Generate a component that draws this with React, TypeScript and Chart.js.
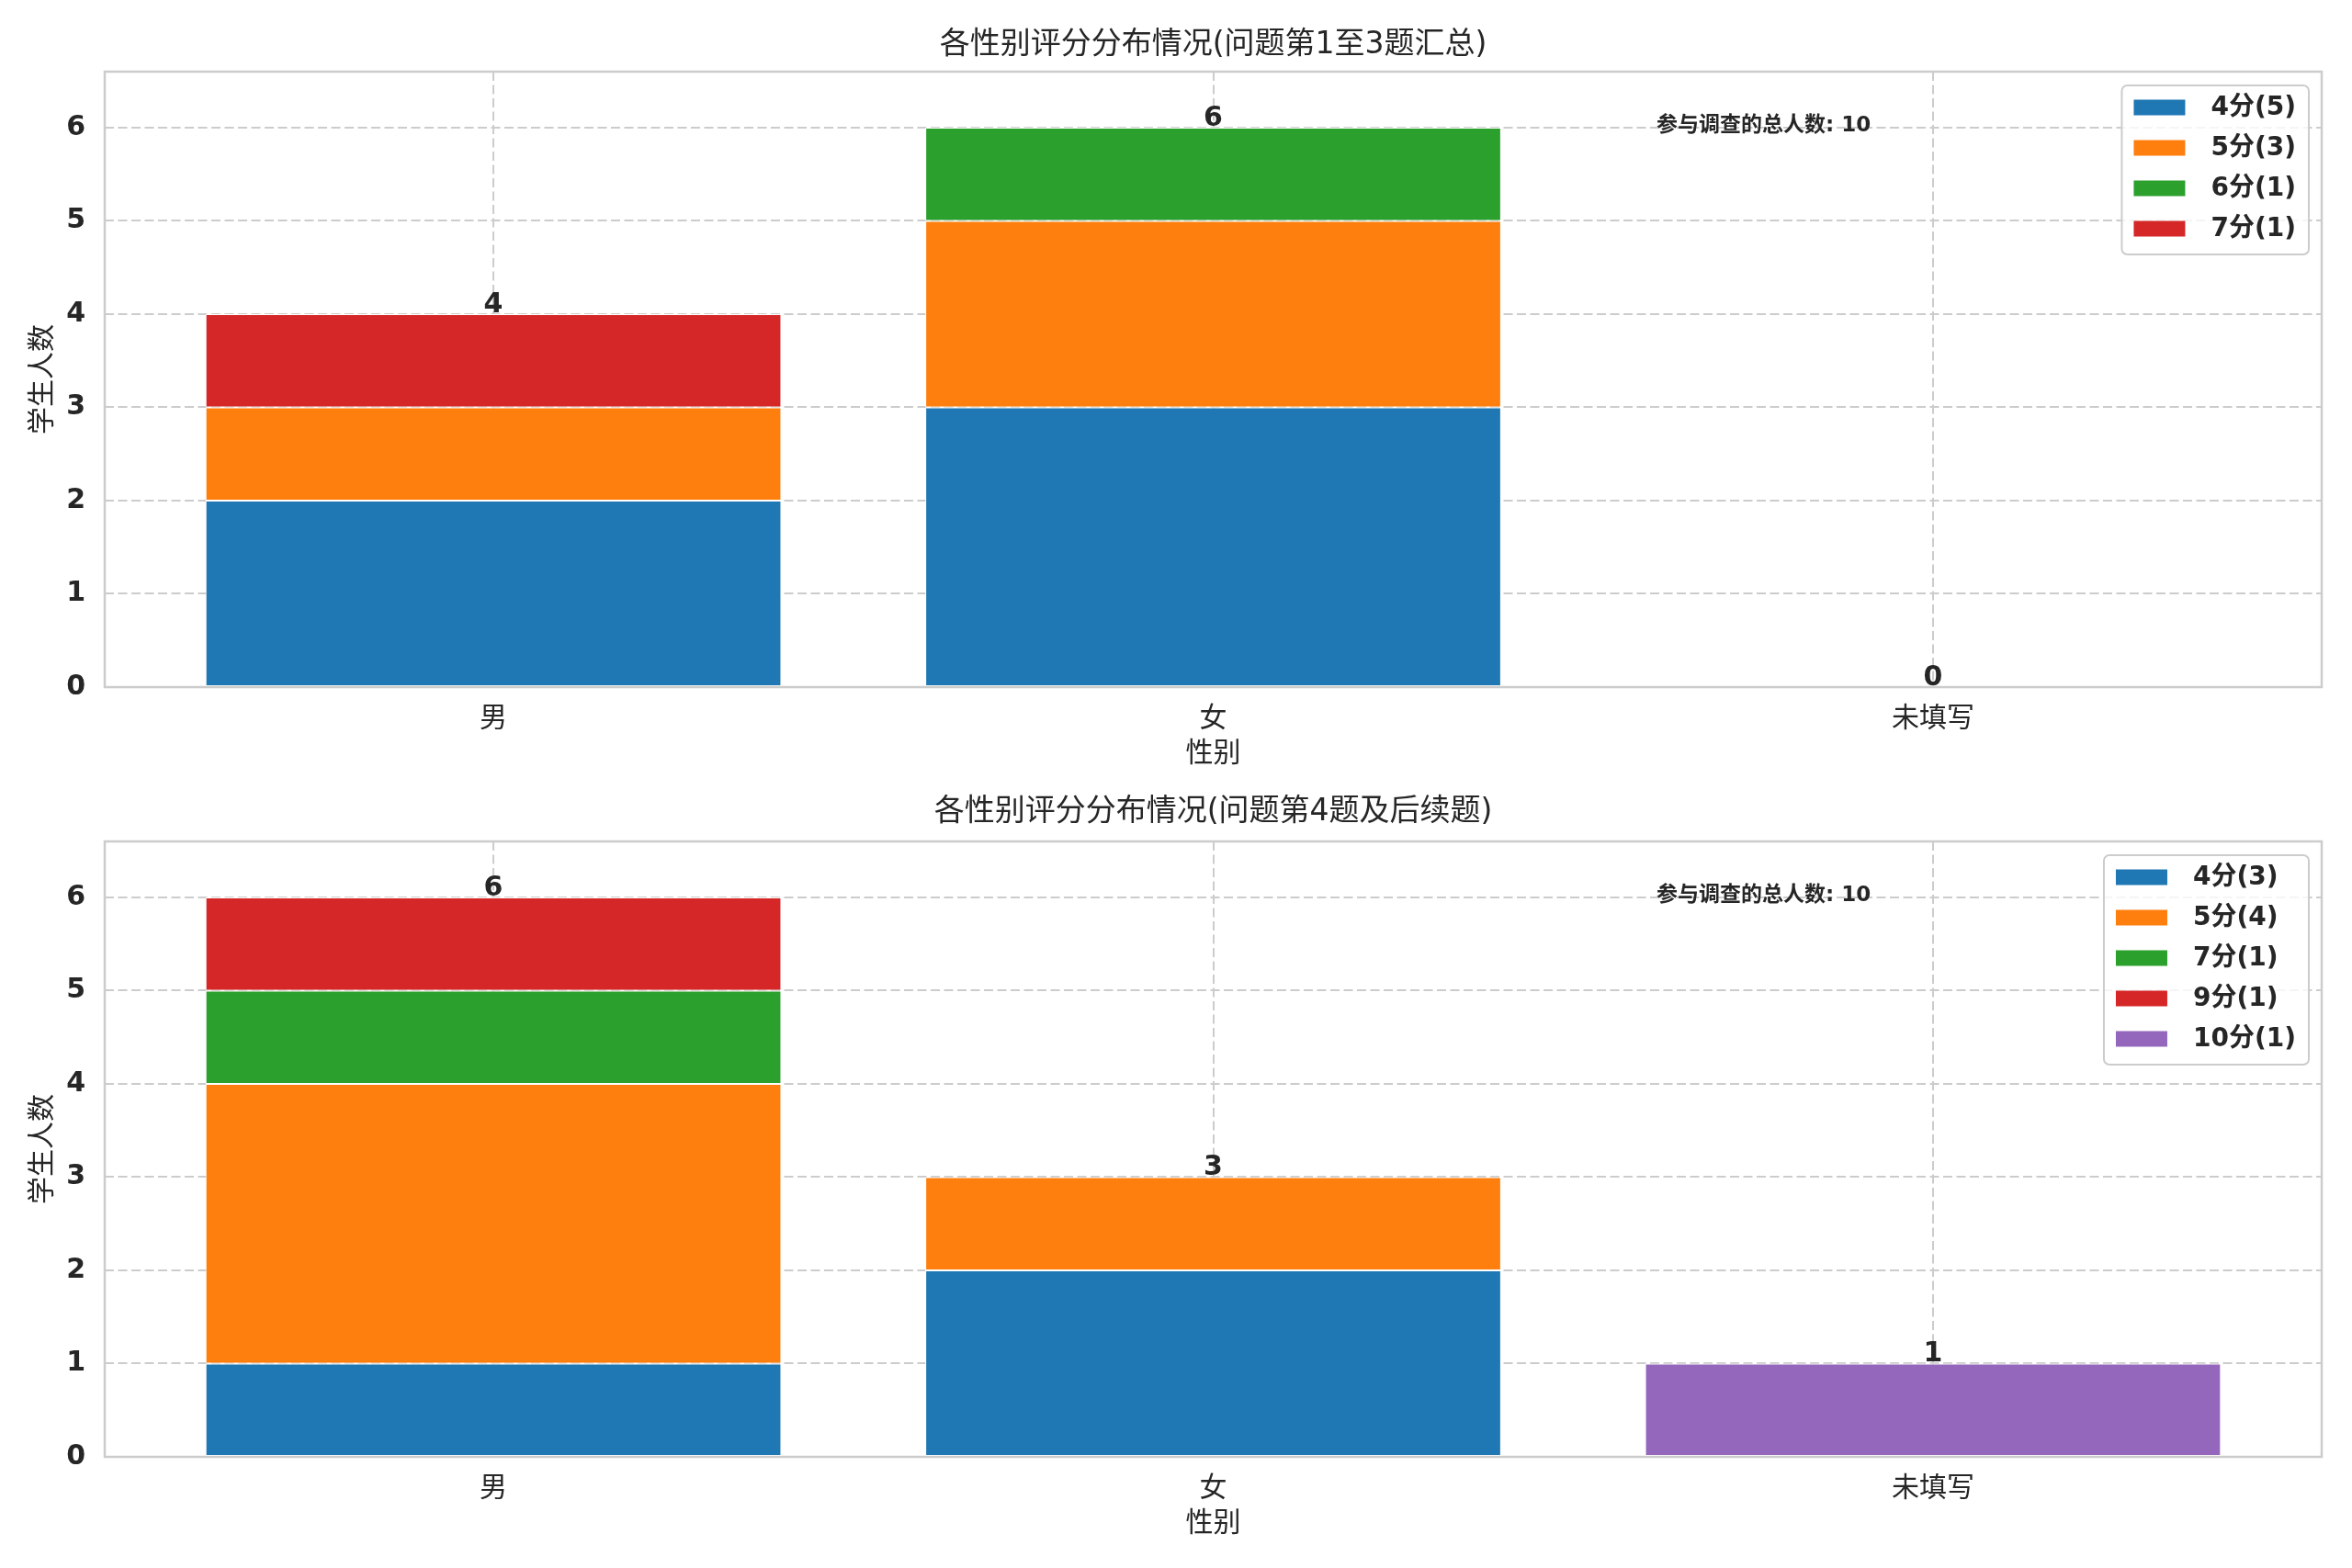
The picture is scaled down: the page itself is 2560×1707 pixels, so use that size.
import React, { useEffect, useRef } from 'react';
import { Chart, registerables } from 'chart.js';

Chart.register(...registerables);

const FONT = "'DejaVu Sans', 'Noto Sans CJK SC', sans-serif";
const TEXT = '#262626';
const EDGE = '#cccccc';

const categories = ['男', '女', '未填写'];
const yTicks = [0, 1, 2, 3, 4, 5, 6];
const totalRespondents = 10;

// 第1至3题
const part1Scores = ['4分', '5分', '6分', '7分'];
const part1Score4 = [2, 3, 0];
const part1Score5 = [1, 2, 0];
const part1Score6 = [0, 1, 0];
const part1Score7 = [1, 0, 0];

// 第4题以后
const part2Scores = ['4分', '5分', '7分', '9分', '10分'];
const part2Score4 = [1, 2, 0];
const part2Score5 = [3, 1, 0];
const part2Score7 = [1, 0, 0];
const part2Score9 = [1, 0, 0];
const part2Score10 = [0, 0, 1];

const colors = ['#1f77b4', '#ff7f0e', '#2ca02c', '#d62728', '#9467bd'];

interface PanelProps {
    title: string;
    scores: string[];
    series: number[][];
    height: number;
    titlePadding: { top: number; bottom: number };
    xAxisHeight: number;
    xTitlePadding: number;
}

const sum = (a: number[]) => a.reduce((s, v) => s + v, 0);

// 坐标轴四边框
const framePlugin = {
    id: 'frame',
    afterDatasetsDraw(chart: any) {
        const { ctx, chartArea } = chart;
        ctx.save();
        ctx.strokeStyle = EDGE;
        ctx.lineWidth = 2.5;
        ctx.strokeRect(chartArea.left, chartArea.top, chartArea.right - chartArea.left, chartArea.bottom - chartArea.top);
        ctx.restore();
    },
};

const totalsPlugin = {
    id: 'totals',
    afterDatasetsDraw(chart: any) {
        const { ctx, scales } = chart;
        ctx.save();
        ctx.font = `bold 30px ${FONT}`;
        ctx.fillStyle = TEXT;
        ctx.textAlign = 'center';
        ctx.textBaseline = 'alphabetic';
        categories.forEach((_, i) => {
            const total = chart.data.datasets.reduce((s: number, ds: any) => s + (ds.data[i]?.y ?? 0), 0);
            const x = scales.x.getPixelForValue(i);
            const y = scales.y.getPixelForValue(total);
            ctx.fillText(String(total), x, y - 2);
        });
        ctx.restore();
    },
};

const notePlugin = {
    id: 'note',
    afterDraw(chart: any) {
        const { ctx, chartArea } = chart;
        const w = chartArea.right - chartArea.left;
        const h = chartArea.bottom - chartArea.top;
        ctx.save();
        ctx.font = `bold 23px ${FONT}`;
        ctx.fillStyle = TEXT;
        ctx.textAlign = 'left';
        ctx.textBaseline = 'middle';
        ctx.fillText(`参与调查的总人数: ${totalRespondents}`, chartArea.left + 0.7 * w, chartArea.top + 0.088 * h);
        ctx.restore();
    },
};

const legendPlugin = {
    id: 'insideLegend',
    afterDraw(chart: any) {
        const { ctx, chartArea } = chart;
        const items = chart.data.datasets.map((ds: any) => ({ label: ds.label, color: ds.backgroundColor }));
        ctx.save();
        ctx.font = `bold 28px ${FONT}`;
        const textW = Math.max(...items.map((it: any) => ctx.measureText(it.label).width));
        const w = 13 + 56 + 28 + textW + 14;
        const h = 52 + 44 * (items.length - 1);
        const x = chartArea.right - 14 - w;
        const y = chartArea.top + 15;
        ctx.beginPath();
        if (ctx.roundRect) ctx.roundRect(x, y, w, h, 6);
        else ctx.rect(x, y, w, h);
        ctx.fillStyle = 'rgba(255,255,255,0.8)';
        ctx.fill();
        ctx.strokeStyle = EDGE;
        ctx.lineWidth = 2;
        ctx.stroke();
        items.forEach((it: any, i: number) => {
            const cy = y + 24 + 44 * i;
            ctx.fillStyle = it.color;
            ctx.fillRect(x + 13, cy - 8.5, 56, 17);
            ctx.fillStyle = TEXT;
            ctx.textAlign = 'left';
            ctx.textBaseline = 'middle';
            ctx.fillText(it.label, x + 97, cy + 1);
        });
        ctx.restore();
    },
};

const Panel: React.FC<PanelProps> = ({ title, scores, series, height, titlePadding, xAxisHeight, xTitlePadding }) => {
    const chartRef = useRef<HTMLCanvasElement | null>(null);
    const chartInstanceRef = useRef<Chart | null>(null);

    useEffect(() => {
        if (!chartRef.current) return;
        if (chartInstanceRef.current) {
            chartInstanceRef.current.destroy();
        }

        const datasets = series.map((values, k) => ({
            label: `${scores[k]}(${sum(values)})`,
            data: values.map((v, i) => ({ x: i, y: v })),
            backgroundColor: colors[k],
            borderColor: '#ffffff',
            borderWidth: 1,
            borderSkipped: false,
            barPercentage: 0.8,
            categoryPercentage: 1.0,
        }));

        chartInstanceRef.current = new Chart(chartRef.current, {
            type: 'bar',
            data: { datasets },
            plugins: [framePlugin, totalsPlugin, notePlugin, legendPlugin],
            options: {
                animation: false,
                responsive: true,
                maintainAspectRatio: false,
                devicePixelRatio: 1,
                layout: { padding: { left: 0, right: 33, top: 0, bottom: 0 } },
                plugins: {
                    legend: { display: false },
                    tooltip: { enabled: false },
                    title: {
                        display: true,
                        text: title,
                        fullSize: false,
                        color: TEXT,
                        font: { family: FONT, size: 33, weight: 'normal' },
                        padding: titlePadding,
                    },
                },
                scales: {
                    x: {
                        type: 'linear',
                        stacked: true,
                        offset: false,
                        min: -0.54,
                        max: 2.54,
                        afterBuildTicks: (scale: any) => {
                            scale.ticks = categories.map((_, i) => ({ value: i }));
                        },
                        afterFit: (scale: any) => {
                            scale.height = xAxisHeight;
                        },
                        ticks: {
                            callback: (value: any) => categories[value] ?? '',
                            color: TEXT,
                            padding: 17,
                            font: { family: FONT, size: 30 },
                            maxRotation: 0,
                        },
                        grid: { color: EDGE, lineWidth: 2, drawTicks: false, offset: false },
                        border: { display: false, dash: [10, 4.5] },
                        title: {
                            display: true,
                            text: '性别',
                            color: TEXT,
                            font: { family: FONT, size: 30 },
                            padding: { top: 0, bottom: xTitlePadding },
                        },
                    },
                    y: {
                        stacked: true,
                        min: 0,
                        max: 6.6,
                        afterBuildTicks: (scale: any) => {
                            scale.ticks = yTicks.map((v) => ({ value: v }));
                        },
                        afterFit: (scale: any) => {
                            scale.width = 114;
                        },
                        ticks: {
                            color: TEXT,
                            padding: 21,
                            font: { family: FONT, size: 30, weight: 'bold' },
                        },
                        grid: { color: EDGE, lineWidth: 2, drawTicks: false },
                        border: { display: false, dash: [10, 4.5] },
                        title: {
                            display: true,
                            text: '学生人数',
                            color: TEXT,
                            font: { family: FONT, size: 30 },
                            padding: { top: 29, bottom: 0 },
                        },
                    },
                },
            } as any,
        });

        return () => {
            if (chartInstanceRef.current) {
                chartInstanceRef.current.destroy();
                chartInstanceRef.current = null;
            }
        };
    }, [title, scores, series]);

    return (
        <div style={{ position: 'relative', width: 2560, height }}>
            <canvas ref={chartRef} />
        </div>
    );
};

const App: React.FC = () => {
    useEffect(() => {
        document.body.style.margin = '0';
        document.body.style.background = '#ffffff';
    }, []);

    return (
        <div style={{ width: 2560, height: 1707, background: '#ffffff' }}>
            <Panel
                title="各性别评分分布情况(问题第1至3题汇总)"
                scores={part1Scores}
                series={[part1Score4, part1Score5, part1Score6, part1Score7]}
                height={853}
                titlePadding={{ top: 30, bottom: 8.4 }}
                xAxisHeight={105}
                xTitlePadding={14}
            />
            <Panel
                title="各性别评分分布情况(问题第4题及后续题)"
                scores={part2Scores}
                series={[part2Score4, part2Score5, part2Score7, part2Score9, part2Score10]}
                height={854}
                titlePadding={{ top: 12, bottom: 11.4 }}
                xAxisHeight={121}
                xTitlePadding={30}
            />
        </div>
    );
};

export default App;
